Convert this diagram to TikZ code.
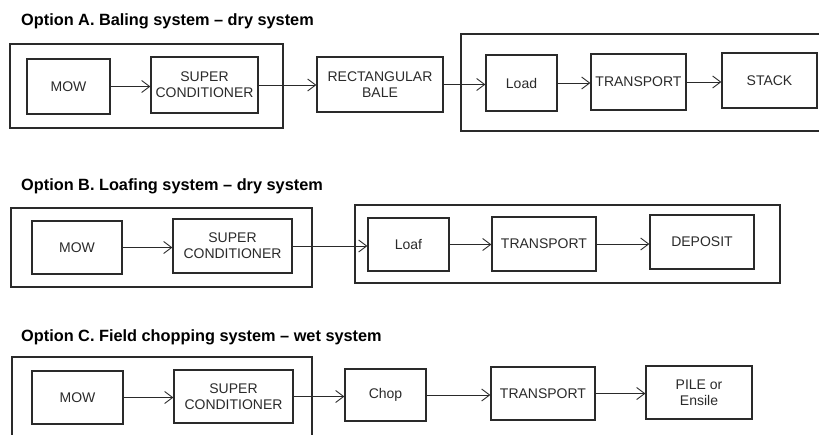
\documentclass[tikz,border=0pt]{standalone}
\usepackage{fontspec}
\setmainfont{Liberation Sans}
\usetikzlibrary{arrows.meta}
\definecolor{ink}{HTML}{2A2A2A}
\tikzset{
  box/.style={draw=ink, line width=1.2pt, inner sep=0pt, align=center,
    text=ink, font=\fontsize{14}{16}\selectfont},
  frame/.style={draw=ink, line width=1.2pt, inner sep=0pt},
  title/.style={anchor=base west, inner sep=0pt, text=black,
    font=\fontsize{16.3}{19}\selectfont\bfseries},
  flow/.style={draw=ink, line width=0.9pt, -{Straight Barb[length=8pt,width=12pt,line width=0.9pt]}}
}
\begin{document}
\begin{tikzpicture}[x=1pt,y=-1pt]
\useasboundingbox (0,0) rectangle (819,434);
% titles
\node[title] (tA) at (21,25) {Option A. Baling system – dry system};
\node[title] (tB) at (21,190) {Option B. Loafing system – dry system};
\node[title] (tC) at (21,341) {Option C. Field chopping system – wet system};
% Option A
\node[frame, minimum width=273pt, minimum height=84pt] (fA1) at (146.5,86) {};
\node[frame, minimum width=369pt, minimum height=97pt] (fA2) at (645.5,82.5) {};
\node[box, minimum width=83pt, minimum height=55pt] (mowA) at (68.5,86.5) {MOW};
\node[box, minimum width=107pt, minimum height=56pt] (scA) at (204.5,85) {SUPER\\CONDITIONER};
\node[box, minimum width=126pt, minimum height=55pt] (rbA) at (380,84.5) {RECTANGULAR\\BALE};
\node[box, minimum width=71pt, minimum height=56pt] (ldA) at (521.5,83) {Load};
\node[box, minimum width=95pt, minimum height=56pt] (trA) at (638.5,82) {TRANSPORT};
\node[box, minimum width=95pt, minimum height=55pt] (stA) at (769.5,80.5) {STACK};
\draw[flow] (mowA.east) -- (mowA.east -| scA.west);
\draw[flow] (scA.east) -- (scA.east -| rbA.west);
\draw[flow] (rbA.east) -- (rbA.east -| ldA.west);
\draw[flow] (ldA.east) -- (ldA.east -| trA.west);
\draw[flow] (trA.east) -- (trA.east -| stA.west);
% Option B
\node[frame, minimum width=301pt, minimum height=79pt] (fB1) at (161.5,247.5) {};
\node[frame, minimum width=425pt, minimum height=78pt] (fB2) at (567.5,244) {};
\node[box, minimum width=90pt, minimum height=53pt] (mowB) at (77,247.5) {MOW};
\node[box, minimum width=119pt, minimum height=54pt] (scB) at (232.5,246) {SUPER\\CONDITIONER};
\node[box, minimum width=81pt, minimum height=53pt] (lfB) at (408.5,244.5) {Loaf};
\node[box, minimum width=104pt, minimum height=54pt] (trB) at (544,244) {TRANSPORT};
\node[box, minimum width=104pt, minimum height=54pt] (dpB) at (702,242) {DEPOSIT};
\draw[flow] (mowB.east) -- (mowB.east -| scB.west);
\draw[flow] (scB.east) -- (scB.east -| lfB.west);
\draw[flow] (lfB.east) -- (lfB.east -| trB.west);
\draw[flow] (trB.east) -- (trB.east -| dpB.west);
% Option C
\node[frame, minimum width=300pt, minimum height=88pt] (fC1) at (162,401) {};
\node[box, minimum width=91pt, minimum height=53pt] (mowC) at (77.5,397.5) {MOW};
\node[box, minimum width=119pt, minimum height=53pt] (scC) at (233.5,396.5) {SUPER\\CONDITIONER};
\node[box, minimum width=81pt, minimum height=52pt] (chC) at (385.5,395) {Chop};
\node[box, minimum width=104pt, minimum height=53pt] (trC) at (543,393.5) {TRANSPORT};
\node[box, minimum width=106pt, minimum height=53pt] (plC) at (699,392.5) {PILE or\\Ensile};
\draw[flow] (mowC.east) -- (mowC.east -| scC.west);
\draw[flow] (scC.east) -- (scC.east -| chC.west);
\draw[flow] (chC.east) -- (chC.east -| trC.west);
\draw[flow] (trC.east) -- (trC.east -| plC.west);
\end{tikzpicture}
\end{document}
